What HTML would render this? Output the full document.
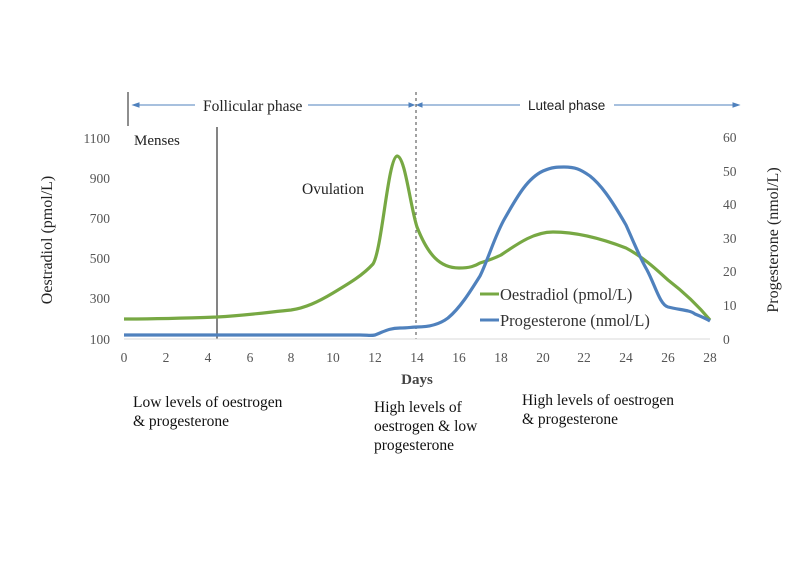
<!DOCTYPE html>
<html><head><meta charset="utf-8"><style>
html,body{margin:0;padding:0;background:#fff;}
svg{display:block;}
</style></head><body>
<svg width="800" height="565" viewBox="0 0 800 565" xmlns="http://www.w3.org/2000/svg" font-family="Liberation Serif, serif">
<rect width="800" height="565" fill="#fff"/>
<line x1="128" y1="92" x2="128" y2="126" stroke="#444" stroke-width="1.2"/>
<g stroke="#4f81bd" stroke-width="1" fill="#4f81bd">
<line x1="134" y1="105" x2="195" y2="105"/><polygon points="133,105 139,103 139,107"/>
<line x1="308" y1="105" x2="413" y2="105"/><polygon points="414,105 409,103 409,107"/>
<line x1="418" y1="105" x2="520" y2="105"/><polygon points="417,105 422,103 422,107"/>
<line x1="614" y1="105" x2="738" y2="105"/><polygon points="739,105 733,103 733,107"/>
</g>
<text x="203" y="111" font-size="15.5" fill="#222">Follicular phase</text>
<text x="528" y="110" font-size="13.5" fill="#222" font-family="Liberation Sans, sans-serif">Luteal phase</text>
<text x="134" y="145" font-size="15" fill="#222">Menses</text>
<text x="302" y="194" font-size="15.5" fill="#222">Ovulation</text>
<line x1="217" y1="127" x2="217" y2="339" stroke="#333" stroke-width="1.2"/>
<line x1="416" y1="92" x2="416" y2="339" stroke="#444" stroke-width="1" stroke-dasharray="3,3"/>
<line x1="124" y1="339" x2="710" y2="339" stroke="#d9d9d9" stroke-width="1"/>
<g font-size="13.5" fill="#555" text-anchor="end">
<text x="110" y="143">1100</text><text x="110" y="183">900</text><text x="110" y="223">700</text>
<text x="110" y="263">500</text><text x="110" y="303">300</text><text x="110" y="344">100</text>
</g>
<g font-size="13.5" fill="#555" text-anchor="start">
<text x="723" y="142">60</text><text x="723" y="176">50</text><text x="723" y="209">40</text>
<text x="723" y="243">30</text><text x="723" y="276">20</text><text x="723" y="310">10</text><text x="723" y="344">0</text>
</g>
<g font-size="13.5" fill="#555" text-anchor="middle">
<text x="124" y="362">0</text><text x="166" y="362">2</text><text x="208" y="362">4</text><text x="250" y="362">6</text>
<text x="291" y="362">8</text><text x="333" y="362">10</text><text x="375" y="362">12</text><text x="417" y="362">14</text>
<text x="459" y="362">16</text><text x="501" y="362">18</text><text x="543" y="362">20</text><text x="584" y="362">22</text>
<text x="626" y="362">24</text><text x="668" y="362">26</text><text x="710" y="362">28</text>
</g>
<text x="417" y="384" font-size="15" font-weight="bold" fill="#444" text-anchor="middle">Days</text>
<text transform="translate(52,240) rotate(-90)" font-size="16" fill="#222" text-anchor="middle">Oestradiol (pmol/L)</text>
<text transform="translate(778,240) rotate(-90)" font-size="16" fill="#222" text-anchor="middle">Progesterone (nmol/L)</text>
<path d="M124,319 C160,319 190,318 217,317 C250,315 270,312 291,310 C305,308 318,302 333,293 C348,284 362,276 373,264 C382,250 388,158 397,156 C405,156 410,205 417,227 C428,255 440,268 459,268 C470,268 475,266 480,263 C490,260 495,258 501,255 C520,242 535,232 553,232 C570,232 595,236 626,248 C645,258 660,273 668,280 C685,293 700,308 710,320" fill="none" stroke="#77a843" stroke-width="3.2" stroke-linejoin="round"/>
<path d="M124,335 L360,335 C368,335 370,336 375,335 C385,331 390,328 400,328 C408,328 412,327 417,327 C430,327 440,324 448,318 C460,308 470,292 480,276 C488,260 495,235 505,218 C518,195 528,178 543,171 C552,167 558,167 564,167 C575,167 580,169 590,176 C600,184 610,197 626,225 C635,245 640,258 647,270 C655,285 660,305 668,307 C680,310 690,310 695,314 C700,316 705,318 710,321" fill="none" stroke="#4f81bd" stroke-width="3.2" stroke-linejoin="round"/>
<line x1="480" y1="294" x2="499" y2="294" stroke="#77a843" stroke-width="3"/>
<text x="500" y="300" font-size="16.5" fill="#333">Oestradiol (pmol/L)</text>
<line x1="480" y1="320" x2="499" y2="320" stroke="#4f81bd" stroke-width="3"/>
<text x="500" y="326" font-size="16.5" fill="#333">Progesterone (nmol/L)</text>
<g font-size="15.5" fill="#111">
<text x="133" y="407">Low levels of oestrogen</text><text x="133" y="426">&amp; progesterone</text>
<text x="374" y="412">High levels of</text><text x="374" y="431">oestrogen &amp; low</text><text x="374" y="450">progesterone</text>
<text x="522" y="405">High levels of oestrogen</text><text x="522" y="424">&amp; progesterone</text>
</g>
</svg>
</body></html>
